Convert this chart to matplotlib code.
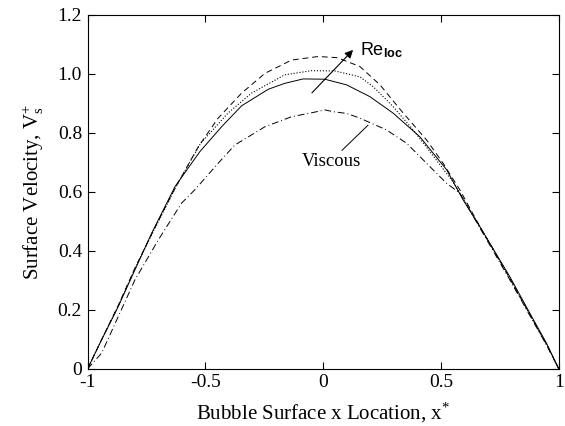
import numpy as np
import matplotlib
matplotlib.use('Agg')
import matplotlib.pyplot as plt

# surface velocity profiles
x_solid = [-1.0, -0.941, -0.870, -0.799, -0.728, -0.629, -0.523, -0.431, -0.346, -0.233,
           -0.163, -0.085, 0.007, 0.099, 0.198, 0.297, 0.410, 0.524, 0.594, 0.665,
           0.792, 0.877, 0.948, 1.0]
v_solid = [0.0, 0.098, 0.211, 0.336, 0.460, 0.618, 0.737, 0.821, 0.892, 0.948,
           0.968, 0.983, 0.982, 0.963, 0.923, 0.867, 0.787, 0.675, 0.573, 0.482,
           0.313, 0.189, 0.087, 0.0]

x_dotted = [-1.0, -0.94, -0.87, -0.80, -0.72, -0.62, -0.52, -0.403, -0.304, -0.163,
            -0.05, 0.05, 0.156, 0.212, 0.297, 0.382, 0.45, 0.55, 0.66, 0.79, 0.88, 0.95, 1.0]
v_dotted = [0.0, 0.10, 0.213, 0.338, 0.468, 0.625, 0.765, 0.868, 0.935, 0.997,
            1.011, 1.010, 0.99, 0.957, 0.889, 0.810, 0.74, 0.635, 0.49, 0.31, 0.18, 0.08, 0.0]

x_dashed = [-1.0, -0.94, -0.87, -0.80, -0.72, -0.629, -0.531, -0.446, -0.346, -0.247,
            -0.134, -0.021, 0.06, 0.156, 0.241, 0.340, 0.439, 0.509, 0.580, 0.66,
            0.79, 0.88, 0.95, 1.0]
v_dashed = [0.0, 0.10, 0.215, 0.34, 0.47, 0.612, 0.752, 0.850, 0.935, 1.002,
            1.047, 1.059, 1.055, 1.025, 0.963, 0.867, 0.776, 0.697, 0.607, 0.49,
            0.31, 0.18, 0.08, 0.0]

x_visc = [-1.0, -0.94, -0.870, -0.799, -0.700, -0.601, -0.545, -0.446, -0.375, -0.247,
          -0.134, -0.05, 0.007, 0.042, 0.10, 0.156, 0.269, 0.354, 0.439, 0.524, 0.580,
          0.66, 0.79, 0.88, 0.95, 1.0]
v_visc = [0.0, 0.054, 0.177, 0.302, 0.437, 0.562, 0.607, 0.697, 0.759, 0.821,
          0.855, 0.868, 0.878, 0.872, 0.866, 0.850, 0.810, 0.765, 0.697, 0.629, 0.596,
          0.485, 0.305, 0.177, 0.078, 0.0]

xticks = [-1, -0.5, 0, 0.5, 1]
xtick_labels = ['-1', '-0.5', '0', '0.5', '1']
yticks = [0, 0.2, 0.4, 0.6, 0.8, 1.0, 1.2]
ytick_labels = ['0', '0.2', '0.4', '0.6', '0.8', '1.0', '1.2']

serif = 'Liberation Serif'
plt.rcParams['mathtext.fontset'] = 'custom'
plt.rcParams['mathtext.rm'] = serif
plt.rcParams['mathtext.it'] = serif
plt.rcParams['mathtext.bf'] = 'Liberation Sans:bold'

fig = plt.figure(figsize=(5.65, 4.26), dpi=100)
ax = fig.add_axes([0.155, 0.134, 0.834, 0.831])

ax.plot(x_solid, v_solid, '-', color='black', lw=0.7)
ax.plot(x_dotted, v_dotted, ':', color='black', lw=0.8)
ax.plot(x_dashed, v_dashed, '--', color='black', lw=0.7, dashes=(6, 4))
ax.plot(x_visc, v_visc, '-.', color='black', lw=0.7, dashes=(7, 3, 1, 3))

ax.set_xlim(-1, 1)
ax.set_ylim(0, 1.2)
ax.set_xticks(xticks)
ax.set_xticklabels(xtick_labels, family=serif, fontsize=14)
ax.set_yticks(yticks)
ax.set_yticklabels(ytick_labels, family=serif, fontsize=14)
ax.tick_params(direction='in', top=True, right=True, length=5, width=0.8, pad=4)
for s in ax.spines.values():
    s.set_linewidth(0.8)

ax.set_xlabel('Bubble Surface x Location, x$^{\\mathrm{*}}$', family=serif, fontsize=15, labelpad=7)
ax.set_ylabel('Surface Velocity, V$_\\mathrm{s}^{\\mathrm{+}}$', family=serif, fontsize=15, labelpad=8)

# annotations
ax.annotate('', xy=(0.135, 1.088), xytext=(-0.056, 0.929),
            arrowprops=dict(arrowstyle='-|>', color='black', lw=0.8, mutation_scale=12))
ax.text(0.156, 1.064, 'Re$_{\\mathbf{loc}}$', family='Liberation Sans', fontsize=13,
        ha='left', va='baseline')
ax.plot([0.08, 0.19], [0.741, 0.826], color='black', lw=0.7)
ax.text(0.037, 0.702, 'Viscous', family=serif, fontsize=13.5, ha='center', va='center')

fig.savefig('out.png', dpi=100)
